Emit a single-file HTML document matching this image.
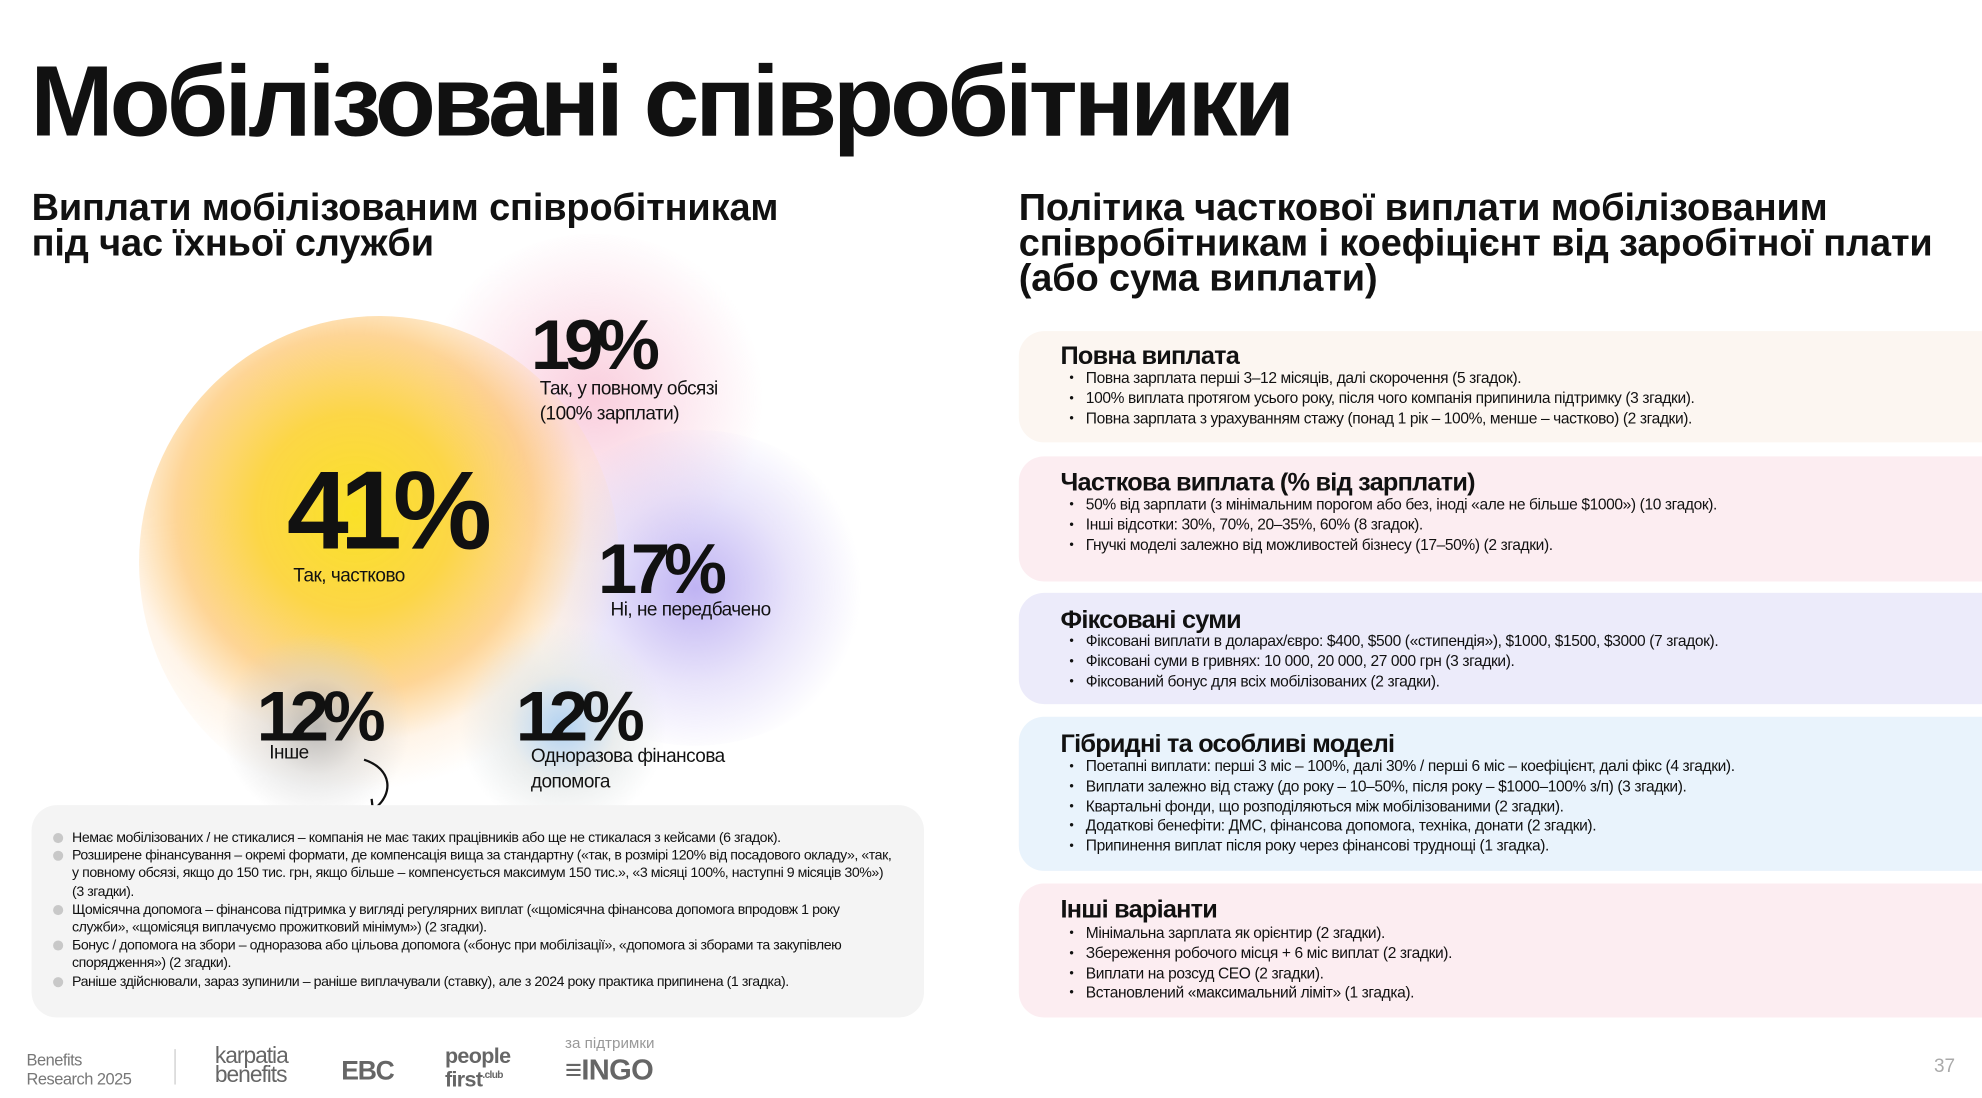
<!DOCTYPE html>
<html><head><meta charset="utf-8">
<style>
html,body{margin:0;padding:0;background:#fff;overflow:hidden;}
body{width:1982px;height:1098px;position:relative;}
#s{position:absolute;left:0;top:0;width:1568px;height:869px;transform:scale(1.26403);transform-origin:0 0;font-family:"Liberation Sans","DejaVu Sans",sans-serif;color:#111;}
.a{position:absolute;white-space:nowrap;}
.t{left:24px;top:34px;font-size:79px;font-weight:bold;letter-spacing:-3.1px;}
.h2{font-size:30px;font-weight:bold;letter-spacing:-0.1px;line-height:28px;}
.box{position:absolute;left:806px;width:780px;border-radius:20px 0 0 20px;}
.box h3{position:absolute;left:33px;margin:0;font-size:20px;font-weight:bold;letter-spacing:-0.6px;}
.box ul{position:absolute;left:40px;margin:0;padding:0;list-style:none;font-size:12.3px;letter-spacing:-0.3px;line-height:15.8px;}
.box li:before{content:"•";position:absolute;left:0;font-size:10px;}
.box li{padding-left:13px;}
.big{font-weight:bold;letter-spacing:-5px;}
.lab{font-size:15px;letter-spacing:-0.4px;line-height:20px;}
.blob{position:absolute;border-radius:50%;}
.gb{position:absolute;left:25px;top:637px;width:706px;height:168px;background:#f4f4f4;border-radius:20px;}
.gb ul{position:absolute;left:32px;top:19px;margin:0;padding:0;list-style:none;font-size:11.2px;letter-spacing:-0.35px;line-height:14.2px;width:650px;}
.gb li{position:relative;margin-bottom:0;}
.gb li:before{content:"";position:absolute;left:-15px;top:3px;width:8px;height:8px;border-radius:50%;background:#c8c8c8;}
.f{color:#777;}
</style></head><body><div id="s">
<div class="a t">Мобілізовані співробітники</div>
<div class="a h2" style="left:25px;top:151px;">Виплати мобілізованим співробітникам<br>під час їхньої служби</div>
<div class="a h2" style="left:806px;top:151px;">Політика часткової виплати мобілізованим<br>співробітникам і коефіцієнт від заробітної плати<br>(або сума виплати)</div>

<div class="blob" style="left:330px;top:185px;width:280px;height:260px;background:radial-gradient(circle,rgba(248,190,210,0.75) 0%,rgba(250,210,225,0.45) 40%,rgba(255,255,255,0) 70%);"></div>
<div class="blob" style="left:410px;top:340px;width:280px;height:250px;background:radial-gradient(circle,rgba(175,160,240,0.8) 0%,rgba(205,195,245,0.45) 40%,rgba(255,255,255,0) 70%);"></div>
<div class="blob" style="left:110px;top:250px;width:380px;height:390px;background:radial-gradient(circle at 45% 40%,rgba(250,225,40,1) 0%,rgba(252,212,60,0.95) 25%,rgba(253,195,105,0.7) 45%,rgba(255,220,180,0.3) 58%,rgba(255,240,220,0) 70%);"></div>
<div class="blob" style="left:360px;top:490px;width:170px;height:170px;background:radial-gradient(circle,rgba(170,205,240,0.9) 0%,rgba(220,225,225,0.6) 35%,rgba(255,240,220,0) 68%);"></div>
<div class="blob" style="left:170px;top:500px;width:160px;height:150px;background:radial-gradient(circle,rgba(175,175,175,0.85) 0%,rgba(210,210,210,0.5) 35%,rgba(255,255,255,0) 68%);"></div>

<div class="a big" style="left:420px;top:240px;font-size:56px;">19%</div>
<div class="a lab" style="left:427px;top:298px;">Так, у повному обсязі<br>(100% зарплати)</div>
<div class="a big" style="left:227px;top:353px;font-size:88px;letter-spacing:-7px;">41%</div>
<div class="a lab" style="left:232px;top:446px;">Так, частково</div>
<div class="a big" style="left:473px;top:417px;font-size:56px;">17%</div>
<div class="a lab" style="left:483px;top:473px;">Ні, не передбачено</div>
<div class="a big" style="left:203px;top:534px;font-size:56px;">12%</div>
<div class="a lab" style="left:213px;top:586px;">Інше</div>
<div class="a big" style="left:408px;top:534px;font-size:56px;">12%</div>
<div class="a lab" style="left:420px;top:589px;">Одноразова фінансова<br>допомога</div>
<svg class="a" style="left:280px;top:596px;" width="40" height="50" viewBox="0 0 40 50"><path d="M8 5 C30 12 32 32 16 44" fill="none" stroke="#111" stroke-width="1.8"/><path d="M14 36 L15 45 L24 42" fill="none" stroke="#111" stroke-width="1.8"/></svg>

<div class="gb"><ul>
<li>Немає мобілізованих / не стикалися – компанія не має таких працівників або ще не стикалася з кейсами (6 згадок).</li>
<li>Розширене фінансування – окремі формати, де компенсація вища за стандартну («так, в розмірі 120% від посадового окладу», «так, у повному обсязі, якщо до 150 тис. грн, якщо більше – компенсується максимум 150 тис.», «3 місяці 100%, наступні 9 місяців 30%») (3 згадки).</li>
<li>Щомісячна допомога – фінансова підтримка у вигляді регулярних виплат («щомісячна фінансова допомога впродовж 1 року служби», «щомісяця виплачуємо прожитковий мінімум») (2 згадки).</li>
<li>Бонус / допомога на збори – одноразова або цільова допомога («бонус при мобілізації», «допомога зі зборами та закупівлею спорядження») (2 згадки).</li>
<li>Раніше здійснювали, зараз зупинили – раніше виплачували (ставку), але з 2024 року практика припинена (1 згадка).</li>
</ul></div>

<div class="box" style="top:262px;height:88px;background:#fcf6f1;"><h3 style="top:9px;">Повна виплата</h3><ul style="top:30px;">
<li>Повна зарплата перші 3–12 місяців, далі скорочення (5 згадок).</li>
<li>100% виплата протягом усього року, після чого компанія припинила підтримку (3 згадки).</li>
<li>Повна зарплата з урахуванням стажу (понад 1 рік – 100%, менше – частково) (2 згадки).</li></ul></div>
<div class="box" style="top:361px;height:99px;background:#fcedf1;"><h3 style="top:10px;">Часткова виплата (% від зарплати)</h3><ul style="top:31px;">
<li>50% від зарплати (з мінімальним порогом або без, іноді «але не більше $1000») (10 згадок).</li>
<li>Інші відсотки: 30%, 70%, 20–35%, 60% (8 згадок).</li>
<li>Гнучкі моделі залежно від можливостей бізнесу (17–50%) (2 згадки).</li></ul></div>
<div class="box" style="top:469px;height:88px;background:#ecebfa;"><h3 style="top:11px;">Фіксовані суми</h3><ul style="top:31px;">
<li>Фіксовані виплати в доларах/євро: $400, $500 («стипендія»), $1000, $1500, $3000 (7 згадок).</li>
<li>Фіксовані суми в гривнях: 10 000, 20 000, 27 000 грн (3 згадки).</li>
<li>Фіксований бонус для всіх мобілізованих (2 згадки).</li></ul></div>
<div class="box" style="top:567px;height:122px;background:#e9f3fc;"><h3 style="top:11px;">Гібридні та особливі моделі</h3><ul style="top:32px;">
<li>Поетапні виплати: перші 3 міс – 100%, далі 30% / перші 6 міс – коефіцієнт, далі фікс (4 згадки).</li>
<li>Виплати залежно від стажу (до року – 10–50%, після року – $1000–100% з/п) (3 згадки).</li>
<li>Квартальні фонди, що розподіляються між мобілізованими (2 згадки).</li>
<li>Додаткові бенефіти: ДМС, фінансова допомога, техніка, донати (2 згадки).</li>
<li>Припинення виплат після року через фінансові труднощі (1 згадка).</li></ul></div>
<div class="box" style="top:699px;height:106px;background:#fcedf1;"><h3 style="top:10px;">Інші варіанти</h3><ul style="top:32px;">
<li>Мінімальна зарплата як орієнтир (2 згадки).</li>
<li>Збереження робочого місця + 6 міс виплат (2 згадки).</li>
<li>Виплати на розсуд CEO (2 згадки).</li>
<li>Встановлений «максимальний ліміт» (1 згадка).</li></ul></div>

<div class="a f" style="left:21px;top:831px;font-size:13px;line-height:15px;letter-spacing:-0.4px;">Benefits<br>Research 2025</div>
<div class="a" style="left:138px;top:830px;width:1px;height:28px;background:#ccc;"></div>
<div class="a f" style="left:170px;top:828px;font-size:18px;line-height:15px;letter-spacing:-0.8px;color:#666;">karpatia<br>benefits</div>
<div class="a" style="left:270px;top:836px;font-size:21px;font-weight:bold;color:#666;letter-spacing:-1px;">EBC</div>
<div class="a" style="left:352px;top:828px;font-size:17px;font-weight:bold;line-height:15px;color:#666;letter-spacing:-0.5px;">people<br>first<span style="font-size:8px;vertical-align:super;">.club</span></div>
<div class="a f" style="left:447px;top:818px;font-size:12px;color:#999;">за підтримки</div>
<div class="a" style="left:447px;top:833px;font-size:23px;font-weight:bold;color:#666;letter-spacing:-0.5px;">≡INGO</div>
<div class="a f" style="left:1530px;top:835px;font-size:15px;color:#aaa;">37</div>
</div></body></html>
